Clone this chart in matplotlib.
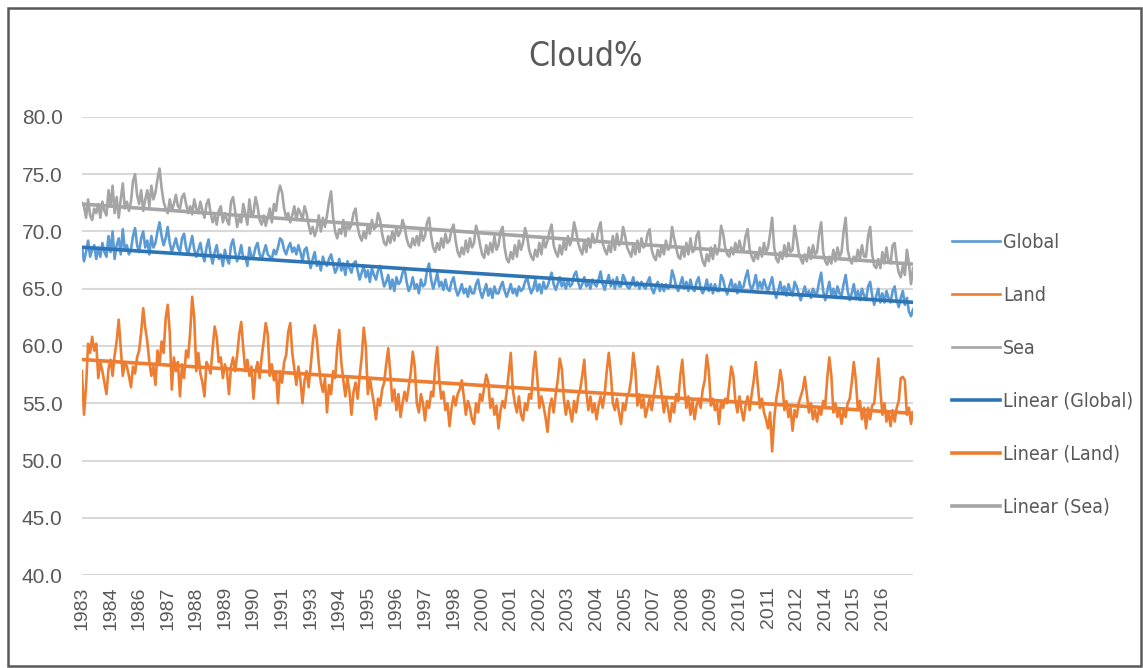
import matplotlib
matplotlib.use("Agg")
import matplotlib.pyplot as plt
import numpy as np
from matplotlib.patches import Rectangle
from matplotlib import font_manager

# monthly cloud cover (%), Jan 1983 - Dec 2016, one row per year
global_cloud = [
    68.6, 67.4, 68.2, 69.2, 67.8, 68.4, 68.8, 67.6, 68.6, 67.8, 69.0, 68.2,
    67.8, 69.6, 68.2, 70.0, 67.6, 68.8, 69.4, 68.0, 70.2, 68.4, 68.8, 68.0,
    68.4, 69.6, 70.3, 68.8, 68.2, 69.4, 70.0, 68.6, 69.2, 68.0, 69.6, 68.6,
    69.0, 70.0, 70.8, 69.6, 68.8, 69.4, 70.4, 69.0, 68.2, 68.8, 69.4, 68.6,
    68.2, 69.4, 69.8, 68.6, 68.0, 68.8, 69.6, 68.4, 67.8, 68.4, 69.0, 68.0,
    67.4, 68.6, 69.3, 68.0, 67.2, 68.2, 68.8, 67.6, 68.0, 67.0, 68.4, 67.6,
    67.2, 68.8, 69.3, 68.2, 67.4, 68.0, 68.8, 67.6, 67.8, 67.0, 68.6, 67.8,
    67.8, 68.6, 69.0, 68.0, 67.6, 68.2, 68.8, 68.0, 67.8, 67.6, 68.4, 68.0,
    68.6, 69.4, 69.2, 68.4, 68.0, 68.6, 69.0, 68.2, 68.6, 68.0, 68.8, 68.2,
    67.4, 68.4, 68.6, 67.6, 66.8, 67.6, 68.2, 67.0, 67.4, 66.6, 67.8, 67.2,
    67.0, 67.6, 68.0, 67.2, 66.4, 66.8, 67.6, 66.6, 67.2, 66.2, 67.4, 66.8,
    66.4, 67.2, 67.4, 66.6, 65.8, 66.4, 67.0, 66.0, 66.6, 65.6, 66.8, 66.2,
    65.8, 66.6, 67.0, 66.0, 65.2, 65.6, 66.2, 65.0, 65.8, 64.8, 66.0, 65.4,
    65.6, 66.4, 66.8, 65.6, 64.8, 65.2, 66.0, 65.0, 65.4, 64.6, 65.8, 65.2,
    65.4, 66.6, 67.2, 65.8, 65.0, 65.6, 66.4, 65.2, 65.6, 64.9, 65.8, 65.0,
    64.8, 65.6, 66.0, 65.0, 64.4, 64.8, 65.4, 64.6, 65.0, 64.3, 65.2, 64.6,
    64.6, 65.4, 65.8, 64.8, 64.2, 64.8, 65.4, 64.4, 65.0, 64.2, 65.2, 64.6,
    64.6, 65.2, 65.6, 64.8, 64.3, 64.8, 65.4, 64.6, 65.0, 64.4, 65.2, 64.8,
    65.0, 65.6, 66.0, 65.2, 64.6, 65.0, 65.8, 64.8, 65.4, 64.6, 65.6, 65.0,
    65.2, 65.8, 66.4, 65.4, 64.9, 65.4, 66.0, 65.2, 65.6, 65.0, 65.8, 65.2,
    65.4, 66.2, 66.5, 65.6, 65.0, 65.4, 66.0, 65.2, 65.6, 65.0, 65.8, 65.4,
    65.2, 65.8, 66.5, 65.4, 64.9, 65.6, 66.2, 65.2, 65.8, 65.0, 66.0, 65.2,
    65.2, 66.2, 65.8, 65.2, 65.0, 65.4, 66.0, 65.2, 65.6, 65.0, 65.6, 65.2,
    65.0, 65.6, 66.0, 65.0, 64.6, 65.2, 65.6, 64.8, 65.4, 64.8, 65.4, 65.0,
    65.2, 66.6, 66.0, 65.2, 64.8, 65.4, 66.0, 65.0, 65.6, 64.8, 65.8, 65.0,
    64.8, 65.6, 66.0, 65.0, 64.6, 65.0, 65.8, 64.8, 65.4, 64.6, 65.4, 64.8,
    64.8, 66.2, 65.8, 65.0, 64.5, 65.2, 65.8, 64.8, 65.4, 64.6, 65.6, 65.0,
    65.2, 66.0, 66.6, 65.4, 64.9, 65.4, 66.2, 65.0, 65.6, 65.0, 65.8, 65.2,
    64.8, 65.4, 66.0, 64.8, 64.2, 64.8, 65.6, 64.6, 65.2, 64.4, 65.4, 64.8,
    64.4, 65.6, 65.2, 64.6, 64.0, 64.6, 65.2, 64.4, 64.8, 64.2, 65.0, 64.6,
    64.6, 65.6, 66.4, 64.8, 64.0, 64.8, 65.6, 64.4, 65.0, 64.2, 65.2, 64.6,
    64.4, 65.4, 66.2, 64.8, 64.0, 64.6, 65.4, 64.2, 64.8, 64.0, 65.0, 64.4,
    64.0, 65.2, 65.6, 64.4, 63.6, 64.4, 65.0, 63.8, 64.6, 63.8, 64.8, 64.2,
    63.8, 64.8, 65.2, 64.0, 63.4, 64.2, 64.8, 63.6, 64.2, 63.0, 62.6, 63.2,
]

land_cloud = [
    57.8, 54.0, 56.4, 60.2, 59.4, 60.8, 59.6, 60.2, 57.2, 58.6, 57.8, 56.8,
    55.8, 58.0, 58.8, 57.4, 59.2, 60.4, 62.3, 59.8, 57.4, 58.6, 58.2, 57.4,
    56.4, 58.2, 57.6, 59.0, 59.6, 61.2, 63.3, 61.6, 60.4, 58.6, 57.4, 58.2,
    56.6, 59.6, 58.4, 60.4, 59.4, 62.4, 63.6, 61.2, 56.2, 59.0, 57.8, 58.6,
    55.6, 58.4, 57.2, 59.6, 59.0, 61.2, 64.3, 62.4, 57.8, 59.4, 57.6, 56.8,
    55.6, 58.6, 58.2, 57.6, 59.8, 61.7, 60.8, 58.6, 59.0, 57.2, 58.4, 57.8,
    55.8, 58.2, 59.0, 57.8, 59.2, 61.0, 62.1, 59.8, 57.8, 58.8, 57.4, 58.2,
    55.4, 57.8, 58.6, 57.2, 59.0, 60.4, 62.0, 61.0, 57.4, 58.4, 57.0, 57.8,
    55.0, 57.8, 56.8, 58.6, 59.2, 61.2, 62.0, 59.4, 58.0, 56.6, 58.2, 57.0,
    55.0, 57.0, 57.8, 56.4, 58.2, 60.2, 61.8, 60.6, 58.4, 56.8, 56.0, 57.2,
    54.2, 56.6, 55.8, 57.8, 57.2, 59.8, 61.4, 58.6, 57.0, 55.6, 57.2, 56.0,
    54.0, 56.0, 56.8, 55.4, 57.4, 59.0, 61.6, 60.0, 55.8, 57.2, 56.0, 55.0,
    53.6, 55.4, 54.8, 56.2, 56.8, 58.4, 59.8, 57.6, 55.2, 56.2, 54.4, 55.8,
    53.8, 55.0, 56.0, 55.2, 56.4, 57.6, 59.5, 58.2, 55.0, 54.2, 55.8, 55.0,
    53.5, 55.2, 54.6, 56.0, 55.6, 58.2, 59.9, 57.0, 55.4, 56.0, 54.4, 55.0,
    53.0, 54.6, 55.6, 54.8, 55.8, 56.2, 57.0, 55.6, 54.0, 55.2, 54.6, 53.6,
    53.2, 55.0, 54.2, 55.8, 55.2, 56.4, 57.5, 56.8, 54.6, 55.4, 54.0, 54.8,
    52.8, 54.4, 55.2, 54.6, 56.0, 57.6, 59.4, 56.2, 55.0, 54.2, 55.6, 54.0,
    53.5, 55.0, 54.4, 55.8, 55.4, 57.8, 59.5, 57.2, 54.6, 55.6, 54.8, 53.8,
    52.5, 54.6, 55.4, 54.2, 55.8, 57.0, 58.9, 58.0, 55.4, 54.0, 55.2, 54.4,
    53.4, 55.2, 54.2, 55.6, 56.2, 57.4, 58.8, 56.0, 54.4, 55.6, 54.2, 55.0,
    53.6, 54.8, 55.6, 54.6, 55.8, 57.8, 59.4, 57.6, 55.0, 54.4, 55.4, 54.2,
    53.2, 55.0, 54.4, 55.6, 56.0, 57.2, 59.4, 58.0, 54.8, 55.8, 54.6, 55.4,
    53.8, 54.6, 55.4, 54.4, 55.6, 56.8, 58.2, 57.0, 55.6, 54.2, 55.4, 54.6,
    53.4, 55.0, 54.2, 55.8, 55.2, 57.4, 58.8, 56.4, 54.6, 55.6, 54.0, 55.2,
    53.6, 54.8, 55.4, 54.6, 56.2, 57.0, 59.2, 57.8, 54.8, 55.4, 54.4, 55.0,
    53.2, 55.2, 54.6, 55.4, 55.0, 56.6, 58.2, 57.4, 55.2, 54.2, 55.6, 54.4,
    53.5, 54.8, 55.6, 54.4, 55.8, 57.0, 58.6, 56.6, 54.6, 55.4, 54.2, 53.6,
    52.8, 54.2, 50.8, 53.6, 55.4, 56.4, 57.9, 56.8, 54.4, 55.2, 53.8, 54.6,
    52.6, 54.4, 53.8, 55.0, 55.6, 56.2, 57.3, 55.8, 54.2, 55.0, 53.6, 54.4,
    53.4, 54.6, 54.0, 55.2, 54.8, 57.2, 59.0, 57.4, 54.2, 55.0, 53.8, 54.4,
    53.2, 54.4, 53.8, 55.0, 55.4, 56.8, 58.6, 57.0, 54.4, 55.2, 53.6, 54.6,
    52.8, 54.6, 53.6, 54.8, 55.0, 57.0, 58.9, 56.2, 54.0, 55.0, 53.4, 54.2,
    53.0, 54.4, 53.4, 54.6, 55.2, 57.2, 57.3, 57.0, 54.0, 54.6, 53.2, 54.2,
]

sea_cloud = [
    72.5, 72.2, 71.2, 72.8, 71.4, 71.0, 72.0, 71.6, 72.4, 71.2, 72.6, 71.8,
    71.4, 73.6, 72.2, 74.0, 71.6, 73.0, 71.2, 72.8, 74.2, 72.0, 72.6, 71.8,
    72.6, 74.4, 75.0, 73.2, 72.4, 73.6, 71.8, 72.8, 73.6, 72.2, 74.0, 72.8,
    73.4, 74.6, 75.5, 73.8, 72.6, 72.0, 71.6, 72.8, 71.8, 72.4, 73.2, 72.2,
    72.0, 73.0, 73.3, 72.4, 71.6, 72.2, 71.5, 72.8, 72.0, 71.6, 72.6, 71.8,
    71.2, 72.4, 72.8, 71.6, 70.8, 71.4, 70.6, 71.8, 72.2, 70.8, 71.6, 71.0,
    70.6, 72.6, 73.0, 71.8, 70.4, 71.2, 70.8, 72.4, 71.6, 70.6, 72.8, 71.4,
    71.6, 73.0, 72.2, 71.0, 70.6, 71.4, 70.5, 71.2, 72.0, 70.8, 72.4, 71.8,
    73.2, 74.0, 73.4, 72.0, 71.2, 71.6, 70.8, 71.4, 72.2, 71.0, 72.0, 71.6,
    71.0, 72.2, 71.6, 70.6, 69.8, 70.4, 69.6, 70.2, 71.4, 70.0, 71.2, 70.4,
    71.4, 72.6, 73.5, 71.2, 70.0, 69.4, 70.2, 69.8, 71.0, 69.6, 70.8, 70.2,
    70.6, 71.6, 72.0, 70.4, 69.6, 69.2, 70.0, 69.4, 70.6, 69.8, 71.0, 70.2,
    70.4, 71.6, 71.0, 69.8, 69.0, 68.8, 69.6, 69.0, 70.0, 69.2, 70.4, 69.6,
    70.0, 71.0, 70.4, 69.4, 68.8, 68.6, 69.4, 68.8, 69.6, 68.8, 70.2, 69.2,
    69.6, 70.8, 71.2, 69.6, 68.6, 68.2, 69.0, 68.4, 69.4, 68.6, 69.8, 69.0,
    69.2, 70.2, 70.6, 69.2, 68.2, 67.8, 68.6, 68.0, 69.2, 68.2, 69.4, 68.6,
    69.0, 70.5, 69.8, 68.8, 68.0, 67.7, 68.8, 68.0, 69.0, 68.2, 69.6, 68.4,
    68.8, 70.0, 70.4, 68.6, 67.6, 67.3, 68.2, 67.6, 68.8, 67.8, 69.2, 68.4,
    69.0, 70.3, 69.6, 68.4, 67.8, 67.5, 68.4, 67.8, 69.0, 68.0, 69.4, 68.6,
    69.2, 70.0, 70.6, 68.8, 68.2, 67.8, 68.8, 68.0, 69.2, 68.4, 69.6, 68.8,
    69.4, 70.8, 70.0, 69.0, 68.4, 68.0, 69.2, 68.2, 69.4, 68.6, 69.8, 69.0,
    69.2, 70.2, 70.8, 69.0, 68.4, 68.0, 68.8, 68.2, 69.6, 68.4, 69.8, 68.8,
    69.0, 70.4, 69.6, 68.6, 68.2, 67.8, 68.8, 68.0, 69.2, 68.2, 69.4, 68.6,
    68.8, 69.8, 70.2, 68.4, 67.8, 67.5, 68.4, 67.8, 68.8, 68.0, 69.2, 68.4,
    68.6, 70.4, 69.4, 68.6, 67.8, 67.6, 68.6, 67.8, 69.0, 68.0, 69.4, 68.2,
    68.4, 69.6, 70.0, 68.2, 67.4, 67.0, 68.0, 67.4, 68.6, 67.6, 68.8, 68.0,
    68.6, 70.5, 69.8, 68.6, 68.0, 67.8, 68.6, 68.0, 69.0, 68.2, 69.2, 68.4,
    68.4, 69.6, 70.2, 68.4, 67.8, 67.4, 68.2, 67.6, 68.6, 67.8, 69.0, 68.2,
    68.6, 69.8, 71.2, 68.6, 67.6, 67.3, 68.2, 67.6, 68.8, 67.8, 69.0, 68.2,
    68.4, 70.5, 69.4, 68.2, 67.6, 67.2, 68.0, 67.4, 68.6, 67.6, 68.8, 68.0,
    68.2, 69.8, 70.8, 68.2, 67.4, 67.1, 67.8, 67.2, 68.4, 67.4, 68.6, 67.8,
    68.2, 70.0, 71.2, 68.4, 67.6, 67.2, 67.8, 67.4, 68.4, 67.6, 68.8, 67.8,
    67.8, 69.6, 70.4, 68.0, 67.0, 66.8, 67.6, 66.8, 68.2, 67.2, 68.6, 67.4,
    67.2, 68.8, 69.0, 67.4, 66.4, 66.0, 67.0, 66.2, 68.4, 67.2, 65.4, 66.8,
]

year_labels = ["1983", "1984", "1986", "1987", "1988", "1989", "1990", "1991",
               "1993", "1994", "1995", "1996", "1997", "1998", "2000", "2001",
               "2002", "2003", "2004", "2005", "2007", "2008", "2009", "2010",
               "2011", "2012", "2014", "2015", "2016"]

series_names = ["Global", "Land", "Sea"]
series_colors = ["#5b9bd5", "#ed7d31", "#a5a5a5"]
trend_colors = ["#2e75b6", "#ed7d31", "#a5a5a5"]

TEXT = "#595959"


def condensed_font(size):
    # DejaVu Sans Condensed if it is installed, otherwise plain Liberation Sans
    names = {f.name for f in font_manager.fontManager.ttflist
             if "condensed" in str(f.stretch).lower() or "Condensed" in f.fname}
    if "DejaVu Sans" in names:
        return font_manager.FontProperties(family="DejaVu Sans",
                                           stretch="condensed", size=size)
    return font_manager.FontProperties(family="Liberation Sans",
                                       size=size * 0.85)


def draw_chart():
    fig = plt.figure(figsize=(11.43, 6.68), dpi=100)
    ax = fig.add_axes([0.0717, 0.1392, 0.7271, 0.6857])

    data = [global_cloud, land_cloud, sea_cloud]
    x = np.arange(len(global_cloud))

    handles = []
    for vals, name, col in zip(data, series_names, series_colors):
        h, = ax.plot(x, vals, color=col, lw=1.9, label=name, zorder=3)
        handles.append(h)

    for vals, name, col in zip(data, series_names, trend_colors):
        k, b = np.polyfit(x, vals, 1)
        h, = ax.plot(x, np.polyval([k, b], x), color=col, lw=2.6,
                     label="Linear (%s)" % name, zorder=4)
        handles.append(h)

    ax.set_xlim(0, len(x) - 1)
    ax.set_ylim(40, 80)
    ax.set_yticks(np.arange(40, 81, 5))
    ax.set_yticklabels(["%.1f" % v for v in np.arange(40, 81, 5)],
                       fontsize=15, color=TEXT, family="Liberation Sans")
    ax.set_xticks(np.arange(0, 14 * len(year_labels), 14))
    ax.set_xticklabels(year_labels, rotation=90, fontsize=14, color=TEXT,
                       family="Liberation Sans")
    ax.tick_params(axis="x", length=0, pad=8)
    ax.tick_params(axis="y", length=0, pad=14)

    ax.grid(axis="y", color="#d9d9d9", lw=1.5)
    ax.set_axisbelow(True)
    for s in ax.spines.values():
        s.set_visible(False)

    fig.text(0.512, 0.915, "Cloud%", ha="center", va="center",
             color=TEXT, fontproperties=condensed_font(24))

    fig.legend(handles=handles, loc="center left",
               bbox_to_anchor=(0.818, 0.439), frameon=False,
               prop=condensed_font(14), labelcolor=TEXT,
               handlelength=2.45, handletextpad=0.15, labelspacing=1.75)

    fig.add_artist(Rectangle((0.007, 0.003), 0.991, 0.985,
                             transform=fig.transFigure, fill=False,
                             edgecolor="#595959", lw=1.8))

    fig.savefig("out.png", dpi=100)


def main():
    draw_chart()


if __name__ == "__main__":
    main()
